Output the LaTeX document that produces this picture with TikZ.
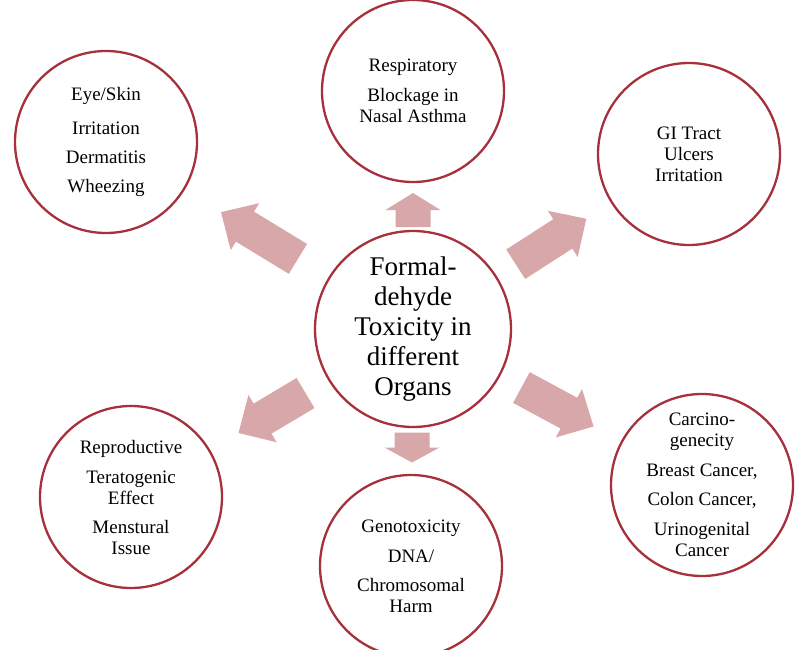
\documentclass[tikz,border=0pt]{standalone}
\usepackage{fontspec}
\setmainfont{Liberation Serif}
\usetikzlibrary{calc}
\definecolor{ringred}{RGB}{166,48,60}
\definecolor{arrowpink}{RGB}{216,167,170}

\tikzset{
  pics/bigarrow/.style 2 args={code={
    \fill[arrowpink] ({-#1/2},-17.5) -- ({#1/2-#2},-17.5) -- ({#1/2-#2},-27.5) -- ({#1/2},0)
      -- ({#1/2-#2},27.5) -- ({#1/2-#2},17.5) -- ({-#1/2},17.5) -- cycle;
  }}
}

\begin{document}
\begin{tikzpicture}[x=1pt, y=-1pt,
  organ/.style={circle, draw=ringred, line width=2.3pt, fill=white, minimum size=182pt, inner sep=0pt, align=center, font=\fontsize{19}{21}\selectfont},
  hub/.style={organ, minimum size=196pt, font=\fontsize{27}{30}\selectfont}]
  \useasboundingbox (0,0) rectangle (795,650);
  \clip (0,0) rectangle (795,650);

  \node[hub] (tox) at (413,329) {Formal-\\dehyde\\Toxicity in\\different\\Organs};
  \node[organ] (resp) at (413,91) {Respiratory\\[9pt]Blockage in\\Nasal Asthma};
  \node[organ] (eye) at (106,142) {Eye/Skin\\[13pt]Irritation\\[8pt]Dermatitis\\[8pt]Wheezing};
  \node[organ] (gi) at (689,154) {GI Tract\\Ulcers\\Irritation};
  \node[organ] (repro) at (131,497) {Reproductive\\[9pt]Teratogenic\\Effect\\[8pt]Menstural\\Issue};
  \node[organ] (geno) at (411,566) {Genotoxicity\\[9pt]DNA/\\[8pt]Chromosomal\\Harm};
  \node[organ] (carc) at (702,485) {Carcino-\\genecity\\[9pt]Breast Cancer,\\[8pt]Colon Cancer,\\[9pt]Urinogenital\\Cancer};

  \pic[rotate=90] at ($(tox)!0.5!(resp)$) {bigarrow={34}{17}};
  \pic[rotate=-90] at ($(tox)!0.5!(geno)$) {bigarrow={30}{15}};
  \pic[rotate=148.7] at ($(tox)!0.5!(eye)$) {bigarrow={90}{28}};
  \pic[rotate=32.8] at ($(tox)!0.5!(gi)$) {bigarrow={84}{28}};
  \pic[rotate=210.8] at ($(tox)!0.5!(repro)$) {bigarrow={78}{28}};
  \pic[rotate=-28.4] at ($(tox)!0.5!(carc)$) {bigarrow={82}{28}};
\end{tikzpicture}
\end{document}
